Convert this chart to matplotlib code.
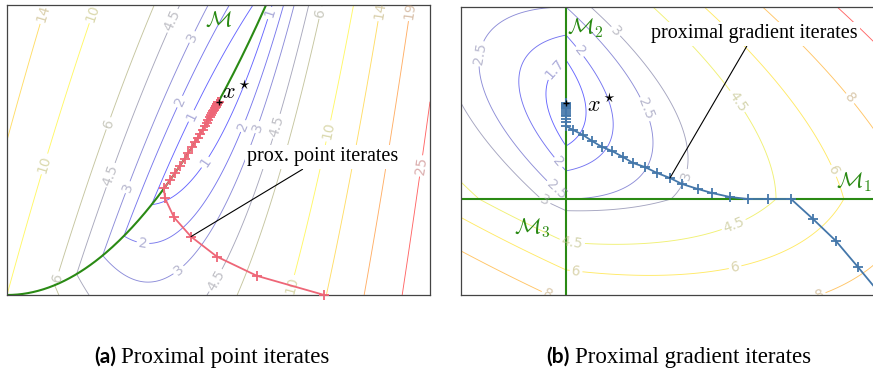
import matplotlib
matplotlib.use('Agg')
import matplotlib.pyplot as plt
import numpy as np
from matplotlib.colors import LinearSegmentedColormap, Normalize, to_rgb

plt.rcParams['mathtext.fontset'] = 'cm'

# (a) proximal point iterates
pp_x = [1.5, 1.182, 0.993, 0.870, 0.790, 0.747, 0.742, 0.77, 0.795, 0.818, 0.84,
        0.858, 0.874, 0.889, 0.902, 0.914, 0.925, 0.935, 0.944, 0.952, 0.959,
        0.965, 0.970, 0.975, 0.979, 0.983, 0.986, 0.989, 0.991, 0.993, 0.995,
        0.997, 0.998, 0.999, 1.0]
pp_y = [0.0, 0.099, 0.198, 0.302, 0.401, 0.500, 0.551, 0.593, 0.632, 0.669, 0.706,
        0.736, 0.764, 0.790, 0.814, 0.835, 0.856, 0.874, 0.891, 0.906, 0.920,
        0.931, 0.941, 0.951, 0.958, 0.966, 0.972, 0.978, 0.982, 0.986, 0.990,
        0.994, 0.996, 0.998, 1.0]
levels_a = [1, 2, 3, 4.5, 6, 10, 14, 19, 25]
xstar_a = (1.0, 1.0)

# (b) proximal gradient iterates
pg_x = [3.0, 2.78, 2.571, 2.352, 2.143, 1.924, 1.733, 1.562, 1.390, 1.257, 1.105,
        0.990, 0.867, 0.752, 0.638, 0.543, 0.438, 0.343, 0.248, 0.162, 0.067,
        0.0, 0.0, 0.0, 0.0, 0.0, 0.0, 0.0, 0.0, 0.0, 0.0, 0.0, 0.0, 0.0, 0.0, 0.0]
pg_y = [-1.0, -0.708, -0.4375, -0.208, 0.0, 0.0, 0.0, 0.021, 0.0625, 0.104, 0.156,
        0.219, 0.271, 0.333, 0.375, 0.4375, 0.5, 0.542, 0.604, 0.667, 0.719,
        0.760, 0.80, 0.83, 0.86, 0.88, 0.90, 0.92, 0.94, 0.95, 0.96, 0.97,
        0.98, 0.985, 0.99, 1.0]
levels_b = [1.7, 2, 2.5, 3, 4.5, 6, 8, 11]
xstar_b = (0.0, 1.0)

red = '#EE6677'
blue = '#4477AA'
green = '#2a8a14'
hot = LinearSegmentedColormap.from_list('pgfhot', ['blue', 'yellow', 'orange', 'red'])


def muted(c):
    c = np.array(to_rgb(c))
    return tuple(0.3 * c + 0.7 * 0.66)


fig = plt.figure(figsize=(8.73, 3.76), dpi=100)
axa = fig.add_axes([7 / 873, 81 / 376, 423 / 873, 290 / 376])
axb = fig.add_axes([461 / 873, 81 / 376, 420 / 873, 288 / 376])

# ---- panel (a): f(x, y) = 10 (1 - x)^2 + 5 |y - x^2|
gx, gy = np.meshgrid(np.linspace(0, 2, 700), np.linspace(0, 1.5, 700))
fa = 10 * (1 - gx) ** 2 + 5 * np.abs(gy - gx ** 2)
norm_a = Normalize(min(levels_a), max(levels_a))
cs = axa.contour(gx, gy, fa, levels=levels_a, cmap=hot, norm=norm_a,
                 linewidths=0.65, alpha=0.6, zorder=1)
lab_a = [(0.165, 1.458), (0.407, 1.458), (0.78, 1.42), (0.865, 1.34), (0.818, 1.0),
         (0.865, 0.93), (0.487, 0.885), (0.18, 0.677), (0.478, 0.625), (0.572, 0.557),
         (0.643, 0.27), (0.818, 0.12), (0.241, 0.089), (0.936, 0.6875), (1.125, 0.87),
         (1.18, 0.87), (1.267, 0.875), (1.518, 0.849), (1.962, 0.667), (0.983, 0.078),
         (1.338, 0.052), (1.243, 1.458), (1.494, 1.458), (1.749, 1.474), (1.896, 1.474)]
axa.clabel(cs, manual=lab_a, fmt=lambda v: f'{v:g}', fontsize=10, inline=True,
           inline_spacing=2, colors=[muted(hot(norm_a(l))) for l in levels_a])

xm = np.linspace(0, np.sqrt(1.5), 200)
axa.plot(xm, xm ** 2, color=green, lw=1.5, zorder=2)
axa.plot(pp_x, pp_y, color=red, lw=1.3, marker='+', ms=7, mew=1.3, zorder=3,
         clip_on=False)
axa.plot(*xstar_a, marker='+', color='k', ms=4, mew=1, zorder=4)
axa.text(0.998, 1.42, r'$\mathcal{M}$', color=green, fontsize=16, ha='center', va='center')
axa.text(1.087, 1.05, r'$x^\star$', color='k', fontsize=16, ha='center', va='center')
axa.annotate('prox. point iterates', xy=(pp_x[3], pp_y[3]), xytext=(1.494, 0.714),
             ha='center', va='center', fontsize=14.5, family='Liberation Serif',
             bbox=dict(fc='white', ec='none', pad=2),
             arrowprops=dict(arrowstyle='-', color='k', lw=0.8, shrinkA=0, shrinkB=0),
             zorder=5)
axa.set_xlim(0, 2)
axa.set_ylim(0, 1.5)

# ---- panel (b): f(x, y) = q(x, y) + |x| + |y|
hx, hy = np.meshgrid(np.linspace(-1, 3, 800), np.linspace(-1, 2, 700))
fb = 0.5 * hx ** 2 + hx * hy + hy ** 2 - hx - 3 * hy + 2.5 + np.abs(hx) + np.abs(hy)
norm_b = Normalize(min(levels_b), max(levels_b))
cs2 = axb.contour(hx, hy, fb, levels=levels_b, cmap=hot, norm=norm_b,
                  linewidths=0.65, alpha=0.6, zorder=1)
lab_b = [(-0.848, 1.52), (0.486, 1.76), (0.124, 1.53), (-0.124, 1.375), (0.733, 0.927),
         (1.61, 1.0), (2.686, 1.03), (-0.105, 0.354), (1.133, 0.25), (2.524, 0.281),
         (-0.2, -0.01), (-0.095, 0.094), (1.61, -0.30), (0.057, -0.458), (1.61, -0.708),
         (0.095, -0.76), (-0.17, -0.98), (2.39, -0.98)]
axb.clabel(cs2, manual=lab_b, fmt=lambda v: f'{v:g}', fontsize=10, inline=True,
           inline_spacing=2, colors=[muted(hot(norm_b(l))) for l in levels_b])

axb.axhline(0, color=green, lw=1.5, zorder=2)
axb.axvline(0, color=green, lw=1.5, zorder=2)
axb.plot(pg_x, pg_y, color=blue, lw=1.3, marker='+', ms=7, mew=1.3, zorder=3)
axb.plot(*xstar_b, marker='+', color='k', ms=4, mew=1, zorder=4)
axb.text(0.18, 1.78, r'$\mathcal{M}_2$', color=green, fontsize=16, ha='center', va='center')
axb.text(2.74, 0.18, r'$\mathcal{M}_1$', color=green, fontsize=16, ha='center', va='center')
axb.text(-0.32, -0.30, r'$\mathcal{M}_3$', color=green, fontsize=16, ha='center', va='center')
axb.text(0.34, 0.98, r'$x^\star$', color='k', fontsize=16, ha='center', va='center')
axb.annotate('proximal gradient iterates', xy=(pg_x[11], pg_y[11]), xytext=(1.79, 1.72),
             ha='center', va='center', fontsize=14.5, family='Liberation Serif',
             bbox=dict(fc='white', ec='none', pad=2),
             arrowprops=dict(arrowstyle='-', color='k', lw=0.8, shrinkA=0, shrinkB=0),
             zorder=5)
axb.set_xlim(-1, 3)
axb.set_ylim(-1, 2)

for ax in (axa, axb):
    ax.set_xticks([])
    ax.set_yticks([])
    for s in ax.spines.values():
        s.set_color('#444444')
        s.set_linewidth(0.9)

# captions
fig.text(116 / 873, 13 / 376, '(a)', fontsize=15, family='Lato', weight='bold',
         ha='right', va='baseline')
fig.text(121 / 873, 13 / 376, 'Proximal point iterates', fontsize=16.5,
         family='Liberation Serif', ha='left', va='baseline')
fig.text(570 / 873, 13 / 376, '(b)', fontsize=15, family='Lato', weight='bold',
         ha='right', va='baseline')
fig.text(575 / 873, 13 / 376, 'Proximal gradient iterates', fontsize=16.5,
         family='Liberation Serif', ha='left', va='baseline')

fig.savefig('out.png', dpi=100)
